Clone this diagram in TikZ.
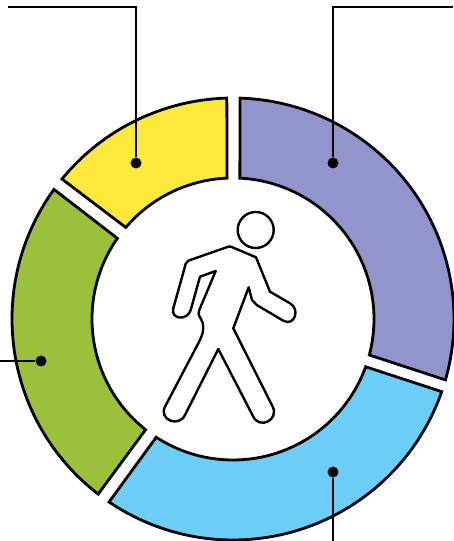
\documentclass[tikz,border=0pt]{standalone}
\usepackage{xcolor}
\definecolor{ringyellow}{HTML}{FDE93B}
\definecolor{ringpurple}{HTML}{9195CB}
\definecolor{ringblue}{HTML}{6CCEF7}
\definecolor{ringgreen}{HTML}{9BC13C}
% #1 colour, #2 #3 outer angles, #4 #5 inner angles
\newcommand{\ringpart}[5]{%
  \draw[ringline, fill=#1] (#2:221) arc[start angle=#2, end angle=#3, radius=221]
    -- (#5:141) arc[start angle=#5, end angle=#4, radius=141] -- cycle;}
\tikzset{
  ringline/.style={line width=2.8pt, line join=miter},
  figline/.style={line width=2.4pt, line join=round, fill=white},
  dotnode/.style={circle, fill=black, inner sep=0pt, minimum size=11pt},
  leader/.style={line width=2.6pt}
}
\begin{document}
\begin{tikzpicture}[x=1pt, y=1pt]
  \useasboundingbox (0,0) rectangle (453,541);
  \begin{scope}[shift={(233,222)}]
    \ringpart{ringpurple}{88.2}{-16}{87.2}{-14.8}
    \ringpart{ringblue}{-19.2}{-124.1}{-19.8}{-123}
    \ringpart{ringgreen}{-127.6}{-215.9}{-128.3}{-214.9}
    \ringpart{ringyellow}{140.7}{91.6}{139.5}{92.4}
  \end{scope}
  % walking figure
  \node[circle, draw, figline, inner sep=0pt, minimum size=36pt] (head) at (255.7,311) {};
  \draw[figline] (231,294.3) -- (256,283.7) -- (270,249.3) -- (290,237.7)
    .. controls (300.8,231.5) and (294.1,214.1) .. (283.3,220.3)
    -- (256.7,236) -- (252,241) -- (248.7,253.7) -- (233.3,212.7) -- (272.7,134.3)
    .. controls (279.2,121.3) and (259.8,111.3) .. (253.3,124.3)
    -- (218.3,192) -- (185,126)
    .. controls (178.5,113.1) and (158.5,121.4) .. (165,134.3)
    -- (198.3,197.7) .. controls (203,207) and (204,211) .. (202.7,218)
    .. controls (201,224) and (197,225) .. (199.3,231)
    -- (215.7,270) -- (200,264.3) -- (190.7,231)
    .. controls (187.5,219.8) and (170.1,221.5) .. (173.3,232.7)
    -- (184.3,272) .. controls (185,276) and (186,279) .. (188.3,280.3)
    -- (226,293.5) .. controls (228,294.3) and (229,294.8) .. (231,294.3) -- cycle;
  % leaders
  \node[dotnode] (yellowdot) at (136,378) {};
  \node[dotnode] (purpledot) at (333,378) {};
  \node[dotnode] (greendot) at (41,180) {};
  \node[dotnode] (bluedot) at (333,69) {};
  \coordinate (yellowend) at (8,534);
  \coordinate (purpleend) at (453,534);
  \coordinate (greenend) at (0,180);
  \coordinate (blueend) at (333,0);
  \draw[leader] (yellowend) -| (yellowdot);
  \draw[leader] (purpleend) -| (purpledot);
  \draw[leader] (greenend) -- (greendot);
  \draw[leader] (blueend) -- (bluedot);
\end{tikzpicture}
\end{document}
